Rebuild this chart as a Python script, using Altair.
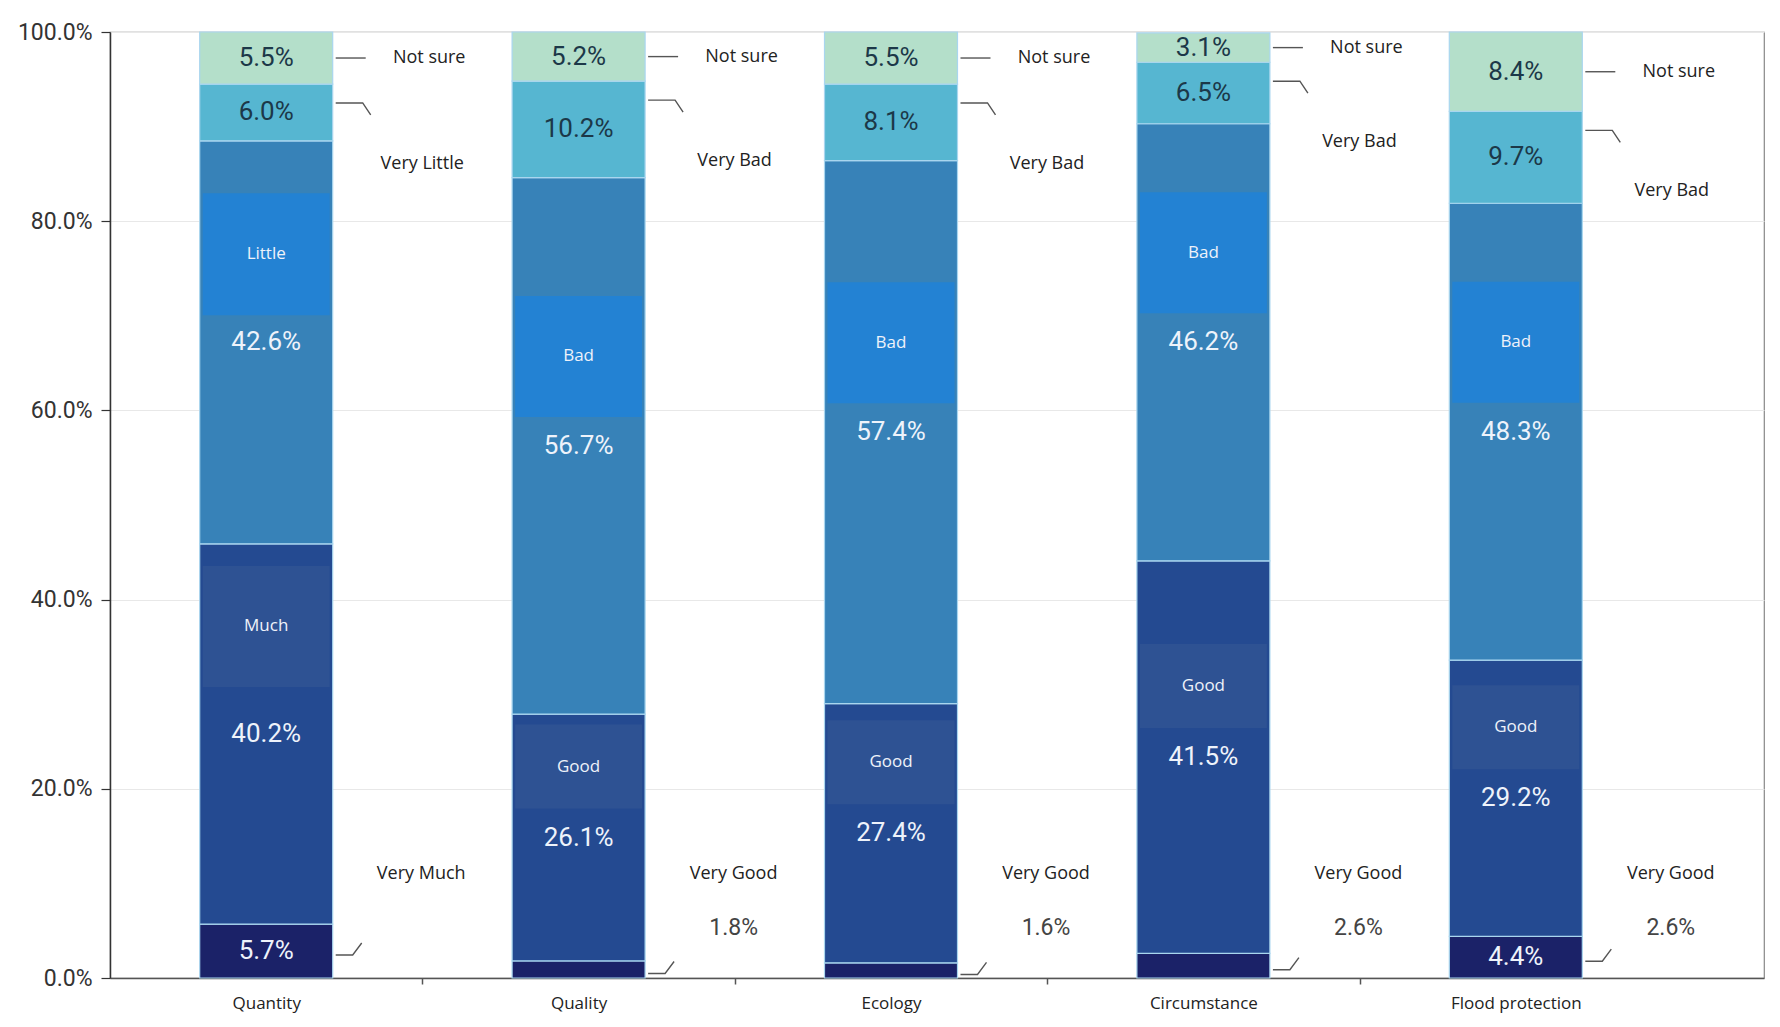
import altair as alt
import pandas as pd

# ---------------- data ----------------
categories = ["Quantity", "Quality", "Ecology", "Circumstance", "Flood protection"]
very_good = [5.7, 1.8, 1.6, 2.6, 4.4]      # Very Much / Very Good
good = [40.2, 26.1, 27.4, 41.5, 29.2]      # Much / Good
bad = [42.6, 56.7, 57.4, 46.2, 48.3]       # Little / Bad
very_bad = [6.0, 10.2, 8.1, 6.5, 9.7]      # Very Little / Very Bad
not_sure = [5.5, 5.2, 5.5, 3.1, 8.4]

levels_quantity = ["Very Much", "Much", "Little", "Very Little", "Not sure"]
levels_other = ["Very Good", "Good", "Bad", "Very Bad", "Not sure"]
level_sets = [levels_quantity, levels_other, levels_other, levels_other, levels_other]
level_keys = ["vgood", "good", "bad", "vbad", "unsure"]

outside_bottom_labels = ["", "1.8%", "1.6%", "2.6%", "2.6%"]
y_ticks = [0, 20, 40, 60, 80, 100]

# ---------------- styles ----------------
W, H = 1654, 946
STEP = 312.4
XMAX = W / STEP
PX = 1.0 / STEP          # x data units per pixel
PY = 100.0 / H           # y data units per pixel
HALF = 66.5 * PX         # half bar width

seg_colors = ["#1b2268", "#244a91", "#3782b8", "#56b6d1", "#b4dfca"]
box_colors = {"bad": "#2382d3", "good": "#2e5293"}
box_height_px = {"Little": 122, "Much": 121, "Bad": 121, "Good": 84}
box_bottom_px = {"Little": 27, "Much": 47, "Bad": 29, "Good": 29}

NUM_FONT = "Roboto"
TXT_FONT = "Open Sans"

# ---------------- build tables ----------------
rows, boxes, lines, side = [], [], [], []
for i, cat in enumerate(categories):
    names = level_sets[i]
    vals = [very_good[i], good[i], bad[i], very_bad[i], not_sure[i]]
    center = i + 0.5
    x0, x1 = center - HALF, center + HALF
    lo = 0.0
    seg = {}
    for key, name, v in zip(level_keys, names, vals):
        hi = lo + v
        mid = (lo + hi) / 2
        show = not (key == "vgood" and v < 4)
        rows.append(dict(cat=cat, key=key, name=name, value=v, lo=lo, hi=hi, mid=mid,
                         center=center, x0=x0, x1=x1, vlabel=f"{v:.1f}%",
                         show=show, dark=key in ("vbad", "unsure")))
        seg[key] = dict(lo=lo, hi=hi, mid=mid, name=name)
        lo = hi
    for key in ("good", "bad"):
        nm = seg[key]["name"]
        b0 = seg[key]["mid"] + box_bottom_px[nm] * PY
        b1 = b0 + box_height_px[nm] * PY
        boxes.append(dict(cat=cat, key=key, name=nm, x0=x0 + 3 * PX, x1=x1 - 3 * PX,
                          b0=b0, b1=b1, bm=(b0 + b1) / 2, center=center,
                          isbad=(key == "bad")))
    ym = seg["unsure"]["mid"]
    lines += [dict(g=f"{i}u", o=0, x=x1 + 3 * PX, y=ym), dict(g=f"{i}u", o=1, x=x1 + 33 * PX, y=ym)]
    yv = seg["vbad"]["hi"] - 2.0
    lines += [dict(g=f"{i}v", o=0, x=x1 + 3 * PX, y=yv), dict(g=f"{i}v", o=1, x=x1 + 30 * PX, y=yv),
              dict(g=f"{i}v", o=2, x=x1 + 38 * PX, y=yv - 12 * PY)]
    yg = seg["vgood"]["mid"] - 4 * PY
    lines += [dict(g=f"{i}g", o=0, x=x1 + 3 * PX, y=yg), dict(g=f"{i}g", o=1, x=x1 + 20 * PX, y=yg),
              dict(g=f"{i}g", o=2, x=x1 + 29 * PX, y=yg + 12 * PY)]
    side.append(dict(kind="unsure", text=seg["unsure"]["name"], x=center + 163 * PX, y=ym))
    side.append(dict(kind="vbad", text=seg["vbad"]["name"], x=center + 156 * PX, y=yv))
    side.append(dict(kind="vgood", text=seg["vgood"]["name"], x=center + 155 * PX, y=11.0))
    if outside_bottom_labels[i]:
        side.append(dict(kind="outval", text=outside_bottom_labels[i], x=center + 155 * PX, y=5.3))

seg_df = pd.DataFrame(rows)
box_df = pd.DataFrame(boxes)
line_df = pd.DataFrame(lines)
side_df = pd.DataFrame(side)

xscale = alt.Scale(domain=[0, XMAX], nice=False, zero=False)
yscale = alt.Scale(domain=[0, 100], nice=False, zero=False)

x_vals = [i + 0.5 for i in range(len(categories))] + [float(i) for i in range(1, len(categories))]
cat_js = "[" + ",".join("'" + c + "'" for c in categories) + "]"

x_axis = alt.Axis(
    values=x_vals,
    labelExpr=f"datum.value % 1 == 0 ? '' : {cat_js}[floor(datum.value)]",
    tickOpacity={"condition": {"test": "datum.value % 1 == 0", "value": 1}, "value": 0},
    grid=False, labelOverlap=False, labelFlush=False,
)
y_axis = alt.Axis(
    values=y_ticks, labelExpr="format(datum.value, '.1f') + '%'", grid=True,
)

def X(f):
    return alt.X(f, type="quantitative", scale=xscale, title=None)

def Y(f):
    return alt.Y(f, type="quantitative", scale=yscale, title=None)

bars = alt.Chart(seg_df).mark_rect(stroke="#a9d6ef", strokeWidth=1.2).encode(
    x=alt.X("x0:Q", scale=xscale, axis=x_axis, title=None),
    x2="x1:Q",
    y=alt.Y("lo:Q", scale=yscale, axis=y_axis, title=None),
    y2="hi:Q",
    color=alt.Color("key:N", scale=alt.Scale(domain=level_keys, range=seg_colors), legend=None),
)

box_layer = alt.Chart(box_df).mark_rect().encode(
    x=X("x0"), x2="x1", y=Y("b0"), y2="b1",
    fill=alt.condition("datum.isbad", alt.value(box_colors["bad"]), alt.value(box_colors["good"])),
)

box_text = alt.Chart(box_df).mark_text(font=TXT_FONT, fontSize=17, color="#eef2fa").encode(
    x=X("center"), y=Y("bm"), text="name:N"
)

val_text = alt.Chart(seg_df).transform_filter("datum.show").mark_text(
    font=NUM_FONT, fontSize=26
).encode(
    x=X("center"), y=Y("mid"), text="vlabel:N",
    fill=alt.condition("datum.dark", alt.value("#1c3848"), alt.value("#eef3fb")),
)

leaders = alt.Chart(line_df).mark_line(color="#555", strokeWidth=1.4).encode(
    x=X("x"), y=Y("y"), detail="g:N", order="o:Q"
)

side_names = alt.Chart(side_df).transform_filter("datum.kind == 'unsure' || datum.kind == 'vgood'").mark_text(
    font=TXT_FONT, fontSize=18, color="#222"
).encode(x=X("x"), y=Y("y"), text="text:N")

side_vbad = alt.Chart(side_df).transform_filter("datum.kind == 'vbad'").mark_text(
    font=TXT_FONT, fontSize=18, color="#222", dy=61
).encode(x=X("x"), y=Y("y"), text="text:N")

side_vals = alt.Chart(side_df).transform_filter("datum.kind == 'outval'").mark_text(
    font=NUM_FONT, fontSize=23, color="#444"
).encode(x=X("x"), y=Y("y"), text="text:N")

chart = alt.layer(
    bars, box_layer, box_text, val_text, leaders, side_names, side_vbad, side_vals
).properties(
    width=W, height=H,
    autosize="none",
    padding={"left": 102, "top": 24, "right": 4, "bottom": 45},
).configure_view(
    stroke="#888", strokeWidth=1.2
).configure_axisX(
    domainColor="#555", domainWidth=1.5, tickColor="#555", tickSize=6, tickWidth=1.5,
    labelFont=TXT_FONT, labelFontSize=17, labelColor="#222", labelPadding=11, grid=False,
).configure_axisY(
    gridColor="#e8e8e8", gridWidth=1.2,
    domainColor="#333", domainWidth=1.5, tickColor="#333", tickSize=9, tickWidth=1.2,
    labelFont=NUM_FONT, labelFontSize=23, labelColor="#333", labelPadding=9,
)

chart.save("out.html", embed_options={"renderer": "svg", "actions": False})
